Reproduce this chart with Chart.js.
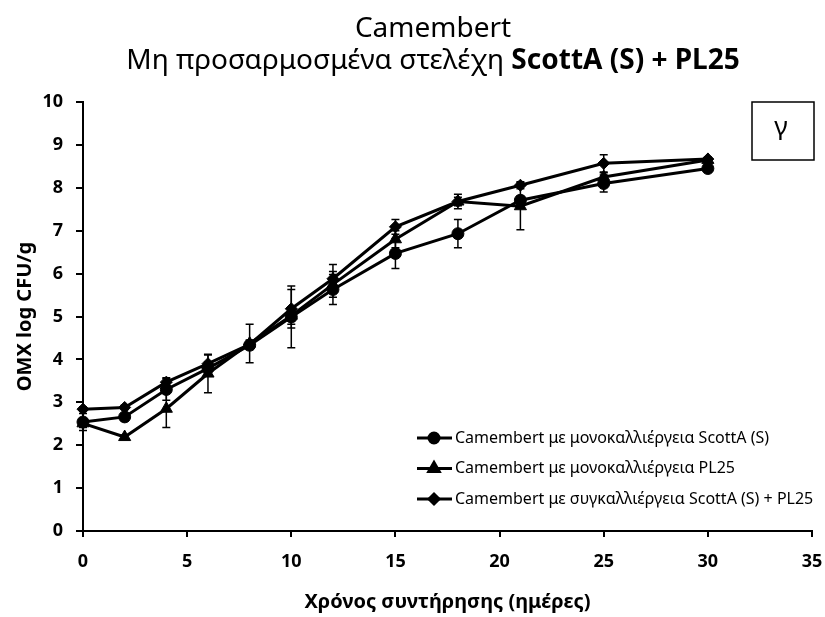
<!DOCTYPE html>
<html>
<head>
<meta charset="utf-8">
<script src="https://cdn.jsdelivr.net/npm/chart.js@4.4.1/dist/chart.umd.min.js"></script>
<style>
    html, body { margin: 0; padding: 0; background: #fff; }
</style>
</head>
<body>
<canvas id="camembertChart" width="825" height="617"></canvas>
<script>
(function () {
    // データ
    const days = [0, 2, 4, 6, 8, 10, 12, 15, 18, 21, 25, 30];
    const scottA = [2.54, 2.66, 3.30, 3.79, 4.33, 4.99, 5.63, 6.47, 6.93, 7.71, 8.10, 8.45];
    const pl25 = [2.51, 2.19, 2.85, 3.67, 4.37, 5.02, 5.75, 6.80, 7.68, 7.57, 8.25, 8.65];
    const coculture = [2.84, 2.88, 3.47, 3.90, 4.35, 5.18, 5.88, 7.09, 7.68, 8.06, 8.57, 8.67];

    // 標準偏差
    const scottAErr = [0.2, 0.08, 0.25, 0.15, 0.1, 0.72, 0.35, 0.35, 0.33, 0.1, 0.2, 0.05];
    const pl25Err = [0.1, 0.05, 0.44, 0.45, 0.45, 0.2, 0.3, 0.2, 0.17, 0.55, 0.1, 0.05];
    const cocultureErr = [0.05, 0.05, 0.1, 0.2, 0.1, 0.45, 0.33, 0.17, 0.1, 0.08, 0.2, 0.05];

    const seriesLabels = [
        'Camembert με μονοκαλλιέργεια ScottA (S)',
        'Camembert με μονοκαλλιέργεια PL25',
        'Camembert με συγκαλλιέργεια ScottA (S) + PL25',
    ];
    const titleLine1 = 'Camembert';
    const titleLine2a = 'Μη προσαρμοσμένα στελέχη ';
    const titleLine2b = 'ScottA (S) + PL25';
    const panelLetter = 'γ';

    const FONT = '"Noto Sans", "DejaVu Sans", sans-serif';

    function toPoints(ys) {
        return days.map((d, i) => ({ x: d, y: ys[i] }));
    }

    function makeSet(label, ys, errs, style, radius) {
        return {
            label: label,
            data: toPoints(ys),
            errors: errs,
            borderColor: '#000',
            backgroundColor: '#000',
            borderWidth: 3,
            pointStyle: style,
            pointRadius: radius,
            pointHoverRadius: radius,
            pointBorderWidth: 1,
            tension: 0,
            clip: false,
        };
    }

    // エラーバー
    const errorBars = {
        id: 'errorBars',
        beforeDatasetsDraw(chart) {
            const ctx = chart.ctx;
            const y = chart.scales.y;
            ctx.save();
            ctx.strokeStyle = '#000';
            ctx.lineWidth = 1.5;
            chart.data.datasets.forEach((ds, di) => {
                const meta = chart.getDatasetMeta(di);
                meta.data.forEach((pt, i) => {
                    const e = ds.errors[i];
                    const v = ds.data[i].y;
                    const top = y.getPixelForValue(v + e);
                    const bot = y.getPixelForValue(v - e);
                    ctx.beginPath();
                    ctx.moveTo(pt.x, top);
                    ctx.lineTo(pt.x, bot);
                    ctx.moveTo(pt.x - 4, top);
                    ctx.lineTo(pt.x + 4, top);
                    ctx.moveTo(pt.x - 4, bot);
                    ctx.lineTo(pt.x + 4, bot);
                    ctx.stroke();
                });
            });
            ctx.restore();
        },
    };

    // タイトル・凡例・パネル記号
    const decorations = {
        id: 'decorations',
        afterDraw(chart) {
            const ctx = chart.ctx;
            ctx.save();
            ctx.fillStyle = '#000';
            ctx.textBaseline = 'middle';

            // title
            const cx = 433;
            ctx.font = '28px ' + FONT;
            ctx.textAlign = 'center';
            ctx.fillText(titleLine1, cx, 29);
            ctx.textAlign = 'left';
            const wa = ctx.measureText(titleLine2a).width;
            ctx.font = 'bold 28px ' + FONT;
            const wb = ctx.measureText(titleLine2b).width;
            const x0 = cx - (wa + wb) / 2;
            ctx.font = '28px ' + FONT;
            ctx.fillText(titleLine2a, x0, 61);
            ctx.font = 'bold 28px ' + FONT;
            ctx.fillText(titleLine2b, x0 + wa, 61);

            // panel letter box
            ctx.lineWidth = 1.5;
            ctx.strokeStyle = '#000';
            ctx.strokeRect(752, 102, 62, 58);
            ctx.font = '26px ' + FONT;
            ctx.textAlign = 'center';
            ctx.fillText(panelLetter, 781, 128);

            // legend
            ctx.font = '16px ' + FONT;
            ctx.textAlign = 'left';
            chart.data.datasets.forEach((ds, i) => {
                const ly = 438 + i * 30.5;
                ctx.lineWidth = 3;
                ctx.beginPath();
                ctx.moveTo(417, ly);
                ctx.lineTo(452, ly);
                ctx.stroke();
                Chart.helpers.drawPoint(ctx, {
                    pointStyle: ds.pointStyle,
                    radius: ds.pointRadius - 1,
                    rotation: 0,
                    borderWidth: 1,
                }, 434, ly);
                ctx.fill();
                ctx.fillText(ds.label, 455, ly);
            });
            ctx.restore();
        },
    };

    // グラフ描画
    const ctx = document.getElementById('camembertChart').getContext('2d');
    new Chart(ctx, {
        type: 'line',
        data: {
            datasets: [
                makeSet(seriesLabels[0], scottA, scottAErr, 'circle', 6),
                makeSet(seriesLabels[1], pl25, pl25Err, 'triangle', 7),
                makeSet(seriesLabels[2], coculture, cocultureErr, 'rectRot', 6),
            ],
        },
        options: {
            responsive: false,
            animation: false,
            layout: {
                padding: { top: 102, right: 13, bottom: 0, left: 0 },
            },
            plugins: {
                legend: { display: false },
                tooltip: { enabled: false },
            },
            scales: {
                x: {
                    type: 'linear',
                    min: 0,
                    max: 35,
                    afterFit: (s) => {
                        s.height = 86;
                        s.paddingLeft = 0;
                        s.paddingRight = 0;
                    },
                    ticks: {
                        stepSize: 5,
                        color: '#000',
                        padding: 14,
                        font: { family: FONT, size: 18, weight: 'bold' },
                    },
                    grid: {
                        drawOnChartArea: false,
                        color: '#000',
                        lineWidth: 2,
                        tickLength: 6,
                    },
                    border: { color: '#000', width: 2 },
                    title: {
                        display: true,
                        text: 'Χρόνος συντήρησης (ημέρες)',
                        color: '#000',
                        padding: { bottom: 3 },
                        font: { family: FONT, size: 20, weight: 'bold' },
                    },
                },
                y: {
                    min: 0,
                    max: 10,
                    afterFit: (s) => {
                        s.width = 83;
                        s.paddingTop = 0;
                        s.paddingBottom = 0;
                    },
                    ticks: {
                        stepSize: 1,
                        color: '#000',
                        padding: 13,
                        font: { family: FONT, size: 18, weight: 'bold' },
                    },
                    grid: {
                        drawOnChartArea: false,
                        color: '#000',
                        lineWidth: 2,
                        tickLength: 7,
                    },
                    border: { color: '#000', width: 2 },
                    title: {
                        display: true,
                        text: 'OMX log CFU/g',
                        color: '#000',
                        padding: { top: 13 },
                        font: { family: FONT, size: 20, weight: 'bold' },
                    },
                },
            },
        },
        plugins: [errorBars, decorations],
    });
})();
</script>
</body>
</html>
